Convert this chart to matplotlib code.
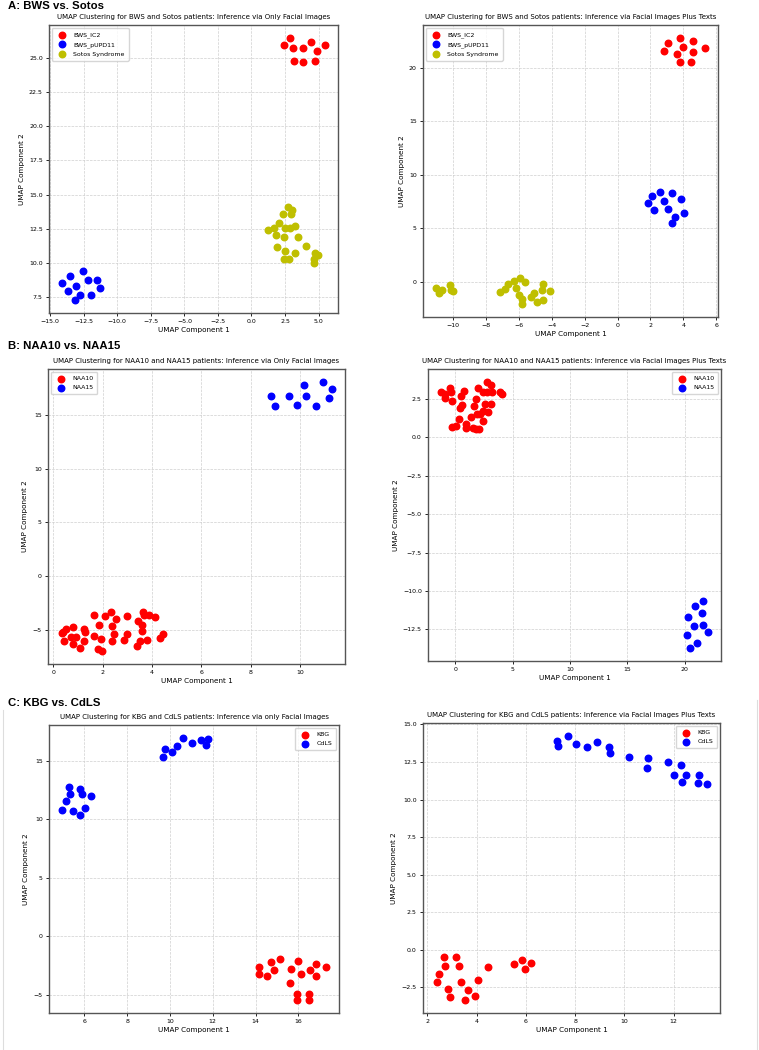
import numpy as np
import matplotlib
matplotlib.use('Agg')
import matplotlib.pyplot as plt
from matplotlib.lines import Line2D

# ---------------- A: BWS vs. Sotos ----------------
a_labels = ['BWS_IC2', 'BWS_pUPD11', 'Sotos Syndrome']

# only facial images
a1_ic2_x = [2.40, 2.89, 3.07, 3.84, 4.41, 5.47, 4.90, 3.14, 3.86, 4.70]
a1_ic2_y = [25.92, 26.44, 25.71, 25.71, 26.19, 25.92, 25.51, 24.76, 24.68, 24.73]
a1_upd_x = [-14.11, -13.54, -12.55, -12.15, -11.53, -13.71, -13.04, -11.31, -12.79, -11.98, -13.17]
a1_upd_y = [8.55, 9.03, 9.45, 8.74, 8.74, 7.94, 8.30, 8.16, 7.67, 7.65, 7.31]
a1_sotos_x = [2.70, 3.02, 2.32, 2.92, 2.03, 1.70, 1.23, 2.47, 2.89, 3.22, 1.82, 2.42,
              3.44, 1.88, 2.52, 4.06, 3.27, 4.75, 4.95, 2.40, 2.82, 4.63, 4.63]
a1_sotos_y = [14.07, 13.88, 13.56, 13.58, 12.90, 12.54, 12.42, 12.54, 12.54, 12.71, 12.05, 11.88,
              11.88, 11.20, 10.91, 11.25, 10.76, 10.76, 10.59, 10.28, 10.28, 10.28, 9.99]

# facial images plus texts
a2_ic2_x = [3.10, 3.81, 4.57, 2.85, 4.01, 3.62, 4.62, 5.30, 3.81, 4.47]
a2_ic2_y = [22.37, 22.78, 22.50, 21.59, 21.93, 21.31, 21.53, 21.90, 20.53, 20.53]
a2_upd_x = [2.61, 2.09, 3.34, 1.84, 2.85, 3.89, 2.23, 3.06, 4.05, 3.52, 3.32]
a2_upd_y = [8.42, 8.05, 8.27, 7.33, 7.52, 7.71, 6.74, 6.77, 6.43, 6.02, 5.49]
a2_sotos_x = [-11.03, -10.69, -10.89, -10.18, -10.16, -10.00, -6.28, -5.93, -5.65, -6.66, -6.88, -7.13,
              -6.17, -5.99, -5.83, -5.83, -4.51, -4.60, -4.13, -5.08, -5.30, -4.51, -4.88]
a2_sotos_y = [-0.62, -0.75, -1.09, -0.28, -0.78, -0.87, 0.09, 0.34, 0.00, -0.19, -0.72, -1.00,
              -0.56, -1.22, -1.59, -2.06, -0.19, -0.78, -0.84, -1.03, -1.47, -1.69, -1.87]

# ---------------- B: NAA10 vs. NAA15 ----------------
b_labels = ['NAA10', 'NAA15']

b1_naa10_x = [0.34, 0.41, 0.51, 0.45, 0.81, 0.72, 0.91, 0.81, 1.08, 1.26, 1.28, 1.26, 1.66,
              1.66, 1.85, 1.93, 1.82, 1.96, 2.12, 2.34, 2.53, 2.39, 2.47, 2.39, 2.88, 2.99,
              3.01, 3.38, 3.42, 3.50, 3.64, 3.66, 3.61, 3.61, 3.82, 3.88, 4.12, 4.32, 4.46]
b1_naa10_y = [-5.26, -5.17, -4.86, -6.03, -4.73, -5.63, -5.63, -6.34, -6.71, -4.95, -5.17, -6.03, -3.56,
              -5.51, -4.49, -5.79, -6.75, -6.91, -3.72, -3.31, -4.02, -4.67, -5.41, -6.03, -5.94, -3.72,
              -5.41, -6.50, -4.12, -6.03, -3.31, -3.56, -4.55, -5.10, -5.88, -3.56, -3.81, -5.72, -5.41]
b1_naa15_x = [8.81, 8.99, 9.54, 10.15, 10.23, 9.89, 10.64, 10.91, 11.27, 11.15]
b1_naa15_y = [16.70, 15.84, 16.70, 17.75, 16.76, 15.90, 15.80, 18.00, 17.35, 16.55]

b2_naa10_x = [-1.20, -0.85, -0.91, -0.47, -0.38, -0.26, 0.76, 0.55, 0.61, 0.41, 0.35, -0.23,
              0.12, 0.91, 0.93, 1.52, 1.81, 2.10, 1.40, 1.87, 1.64, 1.81, 2.01, 2.45, 2.39,
              2.16, 2.45, 2.89, 2.60, 3.09, 2.80, 2.80, 3.18, 3.12, 3.91, 4.12]
b2_naa10_y = [2.98, 2.83, 2.54, 3.20, 2.94, 2.37, 3.02, 2.70, 2.11, 1.89, 1.19, 0.69,
              0.76, 0.84, 0.58, 0.63, 0.52, 0.54, 1.30, 1.50, 2.06, 2.50, 3.24, 2.98, 1.72,
              1.50, 1.06, 1.63, 2.15, 2.15, 3.59, 2.98, 2.98, 3.42, 2.98, 2.81]
b2_naa15_x = [21.55, 20.86, 21.50, 20.30, 21.60, 20.85, 22.00, 20.20, 21.10, 20.50]
b2_naa15_y = [-10.63, -11.00, -11.45, -11.70, -12.20, -12.27, -12.70, -12.87, -13.40, -13.70]

# ---------------- C: KBG vs. CdLS ----------------
c_labels = ['KBG', 'CdLS']

c1_kbg_x = [14.15, 14.16, 14.55, 14.74, 14.85, 15.13, 15.67, 15.63, 15.98,
            16.11, 16.56, 16.84, 16.84, 17.28, 15.95, 15.93, 16.48, 16.48]
c1_kbg_y = [-2.60, -3.23, -3.40, -2.23, -2.94, -1.97, -2.80, -4.03, -2.09,
            -3.26, -2.86, -2.40, -3.37, -2.63, -4.97, -5.46, -4.94, -5.43]
c1_cdls_x = [4.97, 5.16, 5.35, 5.30, 5.47, 5.80, 5.78, 5.89, 6.03, 6.30,
             9.67, 9.75, 10.09, 10.34, 10.60, 11.05, 11.46, 11.68, 11.80]
c1_cdls_y = [10.77, 11.54, 12.17, 12.74, 10.74, 10.34, 12.63, 12.20, 10.97, 12.00,
             15.34, 16.00, 15.74, 16.31, 16.97, 16.51, 16.80, 16.40, 16.91]

c2_kbg_x = [2.68, 3.15, 2.73, 3.27, 2.47, 2.37, 3.37, 2.85, 3.66,
            2.93, 3.95, 3.54, 4.04, 4.48, 5.53, 5.84, 6.22, 5.96]
c2_kbg_y = [-0.46, -0.46, -1.08, -1.08, -1.61, -2.12, -2.12, -2.59, -2.68,
            -3.12, -3.10, -3.34, -2.05, -1.15, -0.95, -0.66, -0.92, -1.26]
c2_cdls_x = [7.25, 7.32, 7.72, 8.04, 8.48, 8.87, 9.39, 9.42, 10.20, 10.97,
             10.92, 11.76, 12.30, 12.00, 12.49, 12.32, 13.03, 12.97, 13.33]
c2_cdls_y = [13.89, 13.58, 14.22, 13.69, 13.47, 13.82, 13.47, 13.07, 12.85, 12.74,
             12.07, 12.47, 12.32, 11.65, 11.65, 11.14, 11.63, 11.12, 11.01]

W, H = 759, 1050
fig = plt.figure(figsize=(W / 100, H / 100), dpi=100)


def px_axes(left, top, right, bottom):
    # axes placed by pixel box of the reference
    return fig.add_axes([left / W, 1 - bottom / H, (right - left) / W, (bottom - top) / H])


def umap_panel(ax, series, labels, colors, title, loc):
    for (x, y), lab, col in zip(series, labels, colors):
        ax.scatter(x, y, s=22, color=col, label=lab)
    ax.set_title(title, fontsize=5, pad=4)
    ax.set_xlabel('UMAP Component 1', fontsize=5.2, labelpad=2)
    ax.set_ylabel('UMAP Component 2', fontsize=5.2, labelpad=3)
    ax.tick_params(labelsize=4.5, length=2.5, width=0.6, pad=2)
    ax.grid(True, linestyle='--', linewidth=0.5, color='#cfcfcf')
    ax.set_axisbelow(True)
    for sp in ax.spines.values():
        sp.set_color('#555555')
        sp.set_linewidth(1.0)
    ax.legend(loc=loc, fontsize=4.5, handletextpad=0.8, borderpad=0.6, labelspacing=0.6)


ax = px_axes(49, 25, 338, 313)
umap_panel(ax, [(a1_ic2_x, a1_ic2_y), (a1_upd_x, a1_upd_y), (a1_sotos_x, a1_sotos_y)],
           a_labels, ['red', 'blue', 'y'],
           'UMAP Clustering for BWS and Sotos patients: Inference via Only Facial Images', 'upper left')

ax = px_axes(423, 25, 718, 317)
umap_panel(ax, [(a2_ic2_x, a2_ic2_y), (a2_upd_x, a2_upd_y), (a2_sotos_x, a2_sotos_y)],
           a_labels, ['red', 'blue', 'y'],
           'UMAP Clustering for BWS and Sotos patients: Inference via Facial Images Plus Texts', 'upper left')

ax = px_axes(48, 369, 345, 664)
umap_panel(ax, [(b1_naa10_x, b1_naa10_y), (b1_naa15_x, b1_naa15_y)],
           b_labels, ['red', 'blue'],
           'UMAP Clustering for NAA10 and NAA15 patients: Inference via Only Facial Images', 'upper left')

ax = px_axes(428, 369, 721, 661)
umap_panel(ax, [(b2_naa10_x, b2_naa10_y), (b2_naa15_x, b2_naa15_y)],
           b_labels, ['red', 'blue'],
           'UMAP Clustering for NAA10 and NAA15 patients: Inference via Facial Images Plus Texts', 'upper right')

ax = px_axes(49, 725, 339, 1013)
umap_panel(ax, [(c1_kbg_x, c1_kbg_y), (c1_cdls_x, c1_cdls_y)],
           c_labels, ['red', 'blue'],
           'UMAP Clustering for KBG and CdLS patients: Inference via only Facial Images', 'upper right')

ax = px_axes(423, 723, 720, 1013)
umap_panel(ax, [(c2_kbg_x, c2_kbg_y), (c2_cdls_x, c2_cdls_y)],
           c_labels, ['red', 'blue'],
           'UMAP Clustering for KBG and CdLS patients: Inference via Facial Images Plus Texts', 'upper right')

# section headers
for txt, ytop in [('A: BWS vs. Sotos', 1), ('B: NAA10 vs. NAA15', 341), ('C: KBG vs. CdLS', 698)]:
    fig.text(8 / W, 1 - ytop / H, txt, fontsize=8.2, fontweight='bold',
             family='Liberation Sans', va='top', ha='left')

# thin borders of the pasted C block
fig.add_artist(Line2D([2.5 / W, 2.5 / W], [1 - 710 / H, 0], color='#dddddd', lw=0.8))
fig.add_artist(Line2D([756.5 / W, 756.5 / W], [1 - 700 / H, 0], color='#dddddd', lw=0.8))

plt.savefig('out.png', dpi=100)
